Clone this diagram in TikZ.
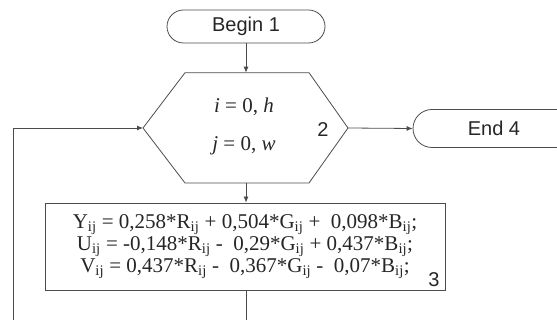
\documentclass[tikz,border=0pt]{standalone}
\usepackage{fontspec}
\setmainfont{Liberation Serif}
\newfontfamily\labfont{Liberation Sans}
\usetikzlibrary{arrows.meta,shapes.misc}
\begin{document}
\begin{tikzpicture}[x=1pt,y=1pt,
  ln/.style={draw=black!70,line width=0.8pt},
  arr/.style={ln,-{Latex[length=6pt,width=5pt]}},
  term/.style={ln,rounded rectangle,minimum height=33pt,inner sep=0pt,
    font=\labfont\fontsize{20}{22}\selectfont,text=black!85},
  procbox/.style={ln,rectangle,minimum width=400pt,minimum height=87pt,inner sep=0pt,
    align=center,font=\fontsize{21}{21.7}\selectfont,text=black!85},
  numlab/.style={inner sep=0pt,font=\labfont\fontsize{20}{22}\selectfont,text=black!85},
  hextext/.style={inner sep=0pt,align=center,font=\fontsize{21}{38}\selectfont,text=black!85}]
\useasboundingbox (0,0) rectangle (557,320);
% terminal Begin
\node[term,minimum width=158pt] (begin) at (246,293.5) {Begin 1};
% hexagon (loop)
\coordinate (hexL) at (143,192);
\coordinate (hexTL) at (185,247.3);
\coordinate (hexT) at (246,247.3);
\coordinate (hexTR) at (309,247.3);
\coordinate (hexR) at (348,192);
\coordinate (hexBR) at (309,137);
\coordinate (hexB) at (246,137);
\coordinate (hexBL) at (185,137);
\draw[ln] (hexL) -- (hexTL) -- (hexTR) -- (hexR) -- (hexBR) -- (hexBL) -- cycle;
\node[hextext] (hexlab) at (244,194) {\textit{i} = 0, \textit{h}\\\textit{j} = 0, \textit{w}};
\node[numlab] (n2) at (323,190) {2};
% End terminal
\node[term,minimum width=162pt,minimum height=38pt] (end) at (494,191.5) {End 4};
% process box
\node[procbox] (calc) at (245,73.5) {%
Y\textsubscript{ij} = 0,258*R\textsubscript{ij} + 0,504*G\textsubscript{ij} + \ 0,098*B\textsubscript{ij};\\
U\textsubscript{ij} = -0,148*R\textsubscript{ij} - \ 0,29*G\textsubscript{ij} + 0,437*B\textsubscript{ij};\\
V\textsubscript{ij} = 0,437*R\textsubscript{ij} - \ 0,367*G\textsubscript{ij} - \ 0,07*B\textsubscript{ij};};
\node[numlab] (n3) at (434,40) {3};
% connectors
\draw[arr] (begin.south) -- (hexT);
\draw[arr] (hexR) -- (end.west);
\draw[arr] (hexB) -- (calc.north -| hexB);
\coordinate (loopA) at (246,-3);
\coordinate (loopB) at (13,-3);
\draw[arr] (calc.south -| hexB) -- (loopA) -- (loopB) |- (hexL);
\end{tikzpicture}
\end{document}
